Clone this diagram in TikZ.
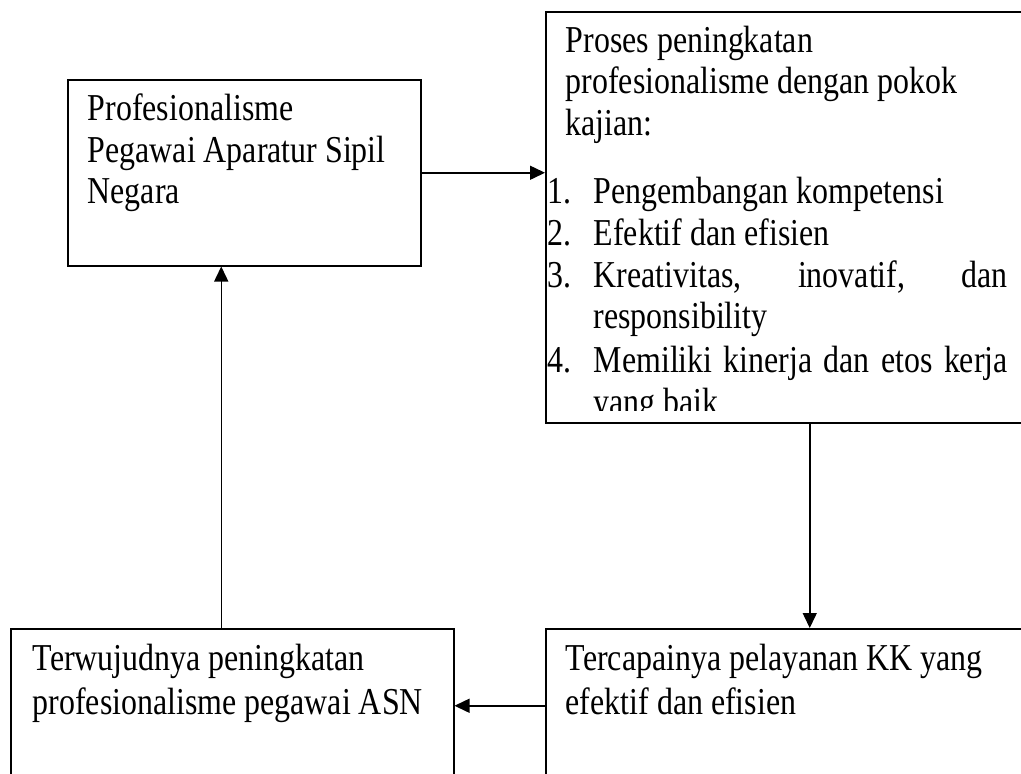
\documentclass[tikz,border=0pt]{standalone}
\usepackage{fontspec}
\setmainfont{Liberation Serif}[FakeStretch=0.84]
\usetikzlibrary{arrows.meta}
\begin{document}
\begin{tikzpicture}[x=1pt,y=-1pt,line width=1.5pt,>={Triangle[length=15pt,width=14pt]},
  kotak/.style={draw,anchor=north west,inner sep=0pt},
  teks/.style={anchor=base west,inner sep=0pt,font=\fontsize{38}{42}\selectfont}]
\clip (0,0) rectangle (1021,774);
\fill[white] (0,0) rectangle (1021,774);
% kotak
\node[kotak,minimum width=353pt,minimum height=186pt] (prof) at (67,79) {};
\node[kotak,minimum width=528pt,minimum height=411pt] (proses) at (545,11) {};
\node[kotak,minimum width=443pt,minimum height=154pt] (hasil) at (10,628) {};
\node[kotak,minimum width=528pt,minimum height=154pt] (capai) at (545,628) {};
% isi kotak kiri atas
\node[teks] (prof1) at (87,120) {Profesionalisme};
\node[teks] (prof2) at (87,162) {Pegawai Aparatur Sipil};
\node[teks] (prof3) at (87,203) {Negara};
% isi kotak kanan atas (terpotong)
\begin{scope}
\clip (545,11) rectangle (1073,410);
\node[teks] (pros1) at (565,52) {Proses peningkatan};
\node[teks] (pros2) at (565,93) {profesionalisme dengan pokok};
\node[teks] (pros3) at (565,135) {kajian:};
\node[teks] (no1) at (547,203) {1.};
\node[teks] (no2) at (547,245) {2.};
\node[teks] (no3) at (547,287) {3.};
\node[teks] (no4) at (547,372) {4.};
\node[teks] (kaji1) at (593,203) {Pengembangan kompetensi};
\node[teks] (kaji2) at (593,245) {Efektif dan efisien};
\node[teks] (kaji3) at (593,287) {\makebox[414pt][s]{Kreativitas, inovatif, dan}};
\node[teks] (kaji3b) at (593,328) {responsibility};
\node[teks] (kaji4) at (593,372) {\makebox[414pt][s]{Memiliki kinerja dan etos kerja}};
\node[teks] (kaji4b) at (593,414) {yang baik};
\end{scope}
% isi kotak bawah
\node[teks] (has1) at (32,670) {Terwujudnya peningkatan};
\node[teks] (has2) at (32,714) {profesionalisme pegawai ASN};
\node[teks] (cap1) at (565,670) {Tercapainya pelayanan KK yang};
\node[teks] (cap2) at (565,714) {efektif dan efisien};
% panah
\draw[->] (prof.east) -- (prof.east -| proses.west);
\draw[->] (proses.south) -- (capai.north);
\draw[->] (capai.west) -- (hasil.east);
\draw[->] ([xshift=-11pt]hasil.north) -- ([xshift=-11pt]hasil.north |- prof.south);
\end{tikzpicture}
\end{document}
